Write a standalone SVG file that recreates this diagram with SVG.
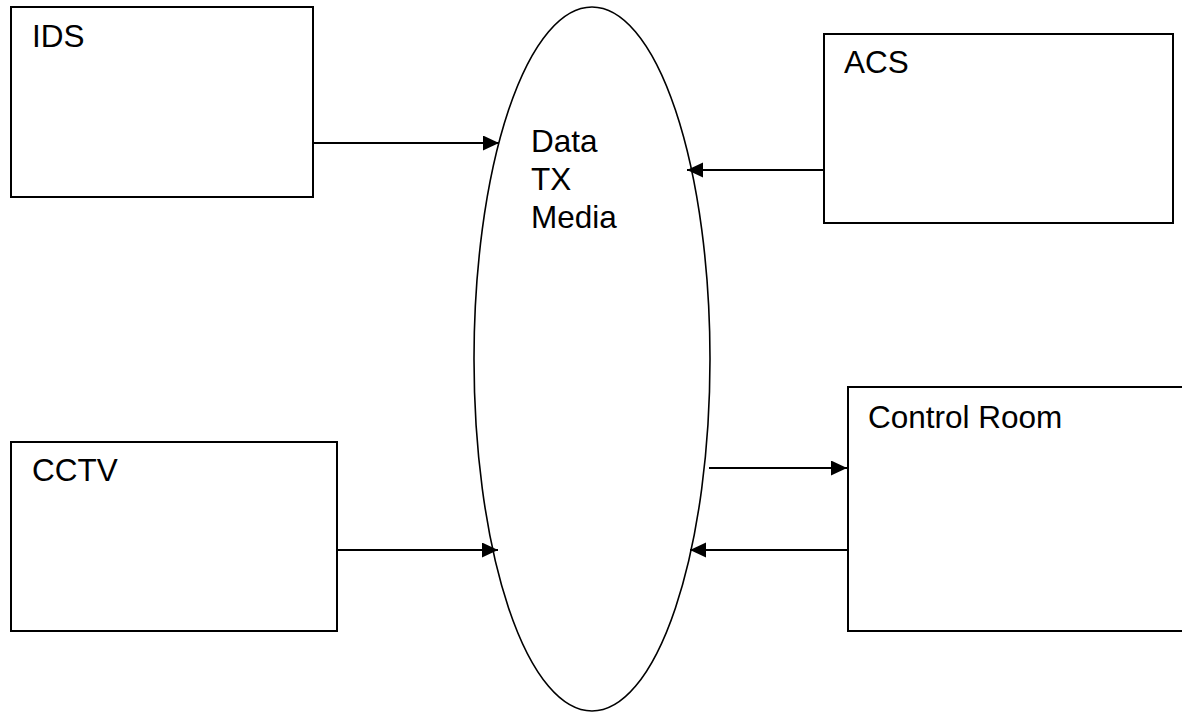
<svg xmlns="http://www.w3.org/2000/svg" width="1182" height="712" viewBox="0 0 1182 712">
  <style>
    .box { fill: #ffffff; stroke: #000000; stroke-width: 2; }
    .medium { fill: none; stroke: #000000; stroke-width: 1.6; }
    .label { font-family: "Liberation Sans", Arial, sans-serif; font-size: 31.5px; fill: #000000; }
    .link { fill: none; stroke: #000000; stroke-width: 2; marker-end: url(#arrow); }
  </style>
  <defs>
    <marker id="arrow" markerUnits="userSpaceOnUse" markerWidth="17" markerHeight="16" refX="16" refY="7.5" orient="auto">
      <path d="M0,0 L16,7.5 L0,15 Z" fill="#000000"/>
    </marker>
  </defs>
  <rect width="1182" height="712" fill="#ffffff"/>

  <g id="ids">
    <rect class="box" x="11" y="7" width="302" height="190"/>
    <text class="label" x="32" y="47">IDS</text>
  </g>

  <g id="acs">
    <rect class="box" x="824" y="34" width="349" height="189"/>
    <text class="label" x="844" y="73">ACS</text>
  </g>

  <g id="cctv">
    <rect class="box" x="11" y="442" width="326" height="189"/>
    <text class="label" x="32" y="481">CCTV</text>
  </g>

  <g id="control-room">
    <rect class="box" x="848" y="387" width="340" height="244"/>
    <text class="label" x="868" y="428">Control Room</text>
  </g>

  <g id="data-tx-media">
    <ellipse class="medium" cx="592" cy="359" rx="118" ry="352"/>
    <text class="label" x="531" y="152">Data</text>
    <text class="label" x="531" y="190">TX</text>
    <text class="label" x="531" y="228">Media</text>
  </g>

  <g id="connectors">
    <line class="link" x1="313" y1="143" x2="499" y2="143"/>
    <line class="link" x1="824" y1="170" x2="687" y2="170"/>
    <line class="link" x1="337" y1="550" x2="498" y2="550"/>
    <line class="link" x1="709" y1="468" x2="847" y2="468"/>
    <line class="link" x1="848" y1="550" x2="690" y2="550"/>
  </g>
</svg>
